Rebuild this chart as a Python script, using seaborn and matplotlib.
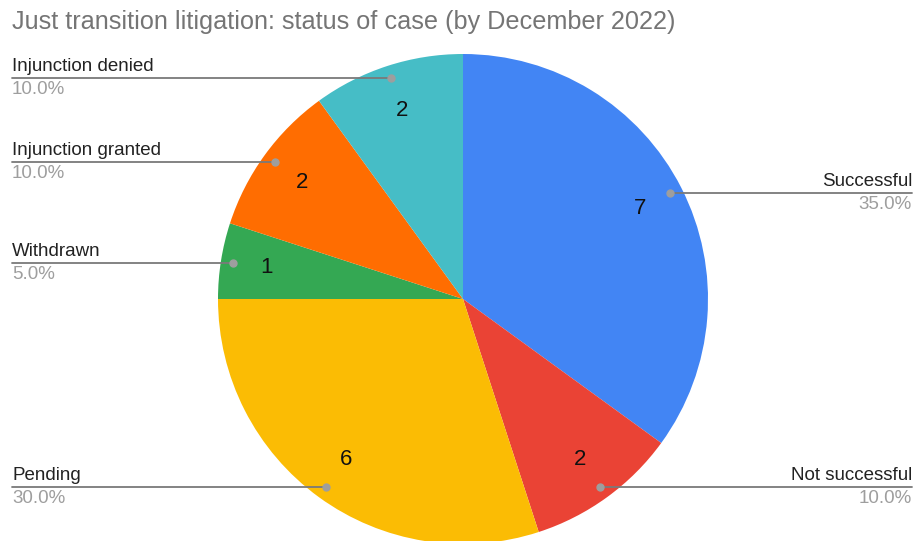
import numpy as np
import matplotlib
matplotlib.use("Agg")
import matplotlib.pyplot as plt
import seaborn as sns

categories = ["Successful", "Not successful", "Pending", "Withdrawn",
              "Injunction granted", "Injunction denied"]
counts = [7, 2, 6, 1, 2, 2]
colors = ["#4285F4", "#EA4335", "#FBBC04", "#34A853", "#FF6D01", "#46BDC6"]
title = "Just transition litigation: status of case (by December 2022)"

sns.set_theme(style="white")
plt.rcParams["font.family"] = ["Liberation Sans", "DejaVu Sans"]

W, H = 914, 541
fig = plt.figure(figsize=(W / 100, H / 100), dpi=100)
ax = fig.add_axes([0, 0, 1, 1])

cx, cy, r = 463, H - 299, 245
total = sum(counts)
wedges, texts, autotexts = ax.pie(
    counts, colors=colors, startangle=90, counterclock=False,
    center=(cx, cy), radius=r, frame=True,
    autopct=lambda p: f"{round(p * total / 100)}", pctdistance=0.81,
    wedgeprops=dict(linewidth=0),
    textprops=dict(fontsize=16, color="#111111"))
ax.set_xlim(0, W)
ax.set_ylim(0, H)
ax.set_aspect("equal")
ax.axis("off")

for w, name, c in zip(wedges, categories, counts):
    mid = np.deg2rad((w.theta1 + w.theta2) / 2)
    dx, dy = 0.95 * r * np.cos(mid), 0.95 * r * np.sin(mid)
    px, py = cx + dx, cy + dy
    right = np.cos(mid) > 0
    xend = 912 if right else 12
    ax.plot([px, xend], [py, py], color="#7a7a7a", lw=1.3, zorder=5)
    ax.plot([px], [py], "o", color="#9e9e9e", ms=5, zorder=6)
    ha = "right" if right else "left"
    ax.text(xend, py + 3, name, ha=ha, va="bottom", fontsize=13.5,
            color="#222222")
    ax.text(xend, py - 3, f"{100 * c / total:.1f}%", ha=ha, va="top",
            fontsize=13.5, color="#9e9e9e")

fig.text(12 / W, 1 - 22 / H, title, ha="left", va="center",
         fontsize=18.2, color="#757575")

fig.savefig("out.png", dpi=100)
